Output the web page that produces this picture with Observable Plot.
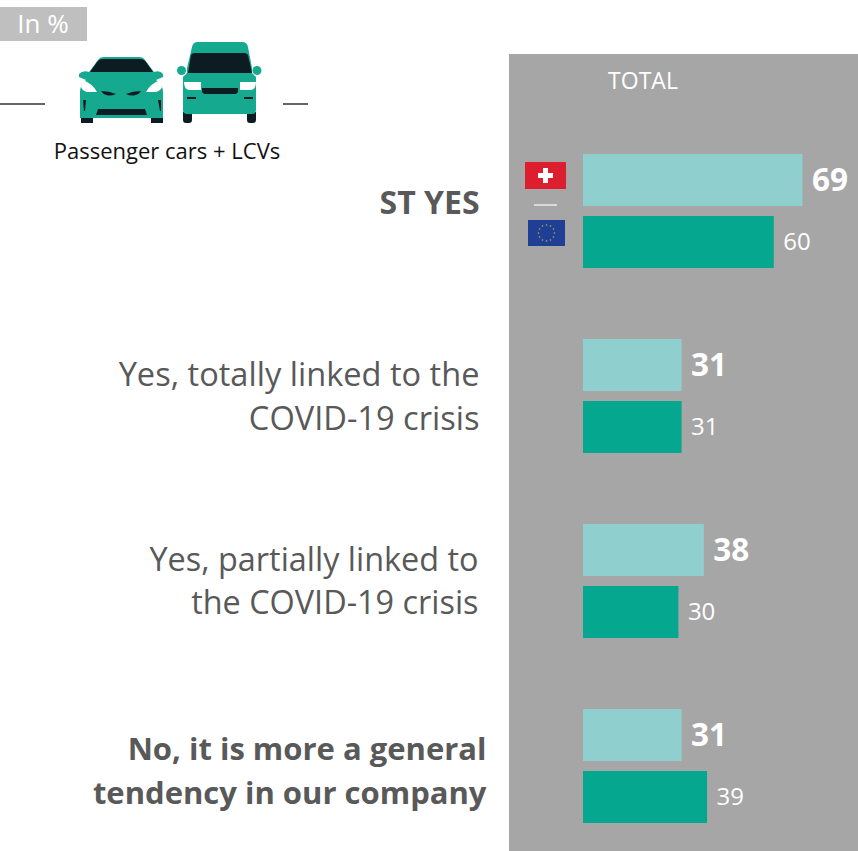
<!DOCTYPE html>
<html>
<head>
<meta charset="utf-8">
<script src="https://cdn.jsdelivr.net/npm/d3@7"></script>
<script src="https://cdn.jsdelivr.net/npm/@observablehq/plot@0.6"></script>
<style>
  html, body { margin: 0; padding: 0; background: #fff; }
  #chart { width: 858px; height: 851px; overflow: hidden; }
  svg { display: block; }
</style>
</head>
<body>
<div id="chart"></div>
<script>
// Survey answers, share of respondents in %
const categories = [
  "ST YES",
  "Yes, totally linked to the\nCOVID-19 crisis",
  "Yes, partially linked to\nthe COVID-19 crisis",
  "No, it is more a general\ntendency in our company"
];
const regions = ["Switzerland", "Europe"];
const switzerlandValues = [69, 31, 38, 31];
const europeValues = [60, 31, 30, 39];

const regionColors = ["#8fcfcd", "#05a88e"];
const panelColor = "#a6a6a6";
const labelColor = "#595959";
const fontFamily = "'Open Sans', sans-serif";

const rows = categories.flatMap((category, i) => [
  {category, region: regions[0], value: switzerlandValues[i]},
  {category, region: regions[1], value: europeValues[i]}
]);

// Category captions sit left of the panel; each has its own small offset.
const captionStyle = [
  {dx: -104, dy: -11, weight: 700, size: 32, leading: 1.35},
  {dx: -104, dy: -3, weight: 400, size: 32.6, leading: 1.35},
  {dx: -105, dy: -3, weight: 400, size: 32.4, leading: 1.35},
  {dx: -97, dy: 1, weight: 700, size: 31, leading: 1.42}
];

const plot = Plot.plot({
  width: 858,
  height: 851,
  marginTop: 154,
  marginBottom: 28,
  marginLeft: 0,
  marginRight: 0,
  style: {background: "transparent", fontFamily},
  x: {domain: [0, 100], range: [583, 901], axis: null},
  y: {domain: regions, paddingInner: 10 / 62, paddingOuter: 0, axis: null},
  fy: {domain: categories, paddingInner: 71 / 185, paddingOuter: 0, axis: null},
  color: {domain: regions, range: regionColors},
  marks: [
    Plot.barX(rows, {x: "value", y: "region", fy: "category", fill: "region"}),
    Plot.text(rows.filter((d) => d.region === regions[0]), {
      x: "value", y: "region", fy: "category", text: (d) => String(d.value),
      dx: 9, textAnchor: "start", fill: "#fff", fontSize: 31.5, fontWeight: 700
    }),
    Plot.text(rows.filter((d) => d.region === regions[1]), {
      x: "value", y: "region", fy: "category", text: (d) => String(d.value),
      dx: 9, textAnchor: "start", fill: "#fff", fontSize: 24
    }),
    ...categories.map((category, i) =>
      Plot.text([category], {
        x: () => 0, fy: (d) => d, text: (d) => d,
        frameAnchor: "middle",
        dx: captionStyle[i].dx, dy: captionStyle[i].dy,
        textAnchor: "end", fill: labelColor,
        fontSize: captionStyle[i].size, fontWeight: captionStyle[i].weight,
        lineHeight: captionStyle[i].leading
      })
    )
  ]
});
document.getElementById("chart").appendChild(plot);

const svg = d3.select(plot);

// Backdrop layer: the grey panel goes underneath the bars.
const backdrop = svg.insert("g", ":first-child");
backdrop.append("rect").attr("x", 509).attr("y", 54).attr("width", 349).attr("height", 797).attr("fill", panelColor);

const deco = svg.append("g");

// "In %" tag
deco.append("rect").attr("x", 0).attr("y", 7).attr("width", 87).attr("height", 34).attr("fill", "#bfbfbf");
deco.append("text").attr("x", 43).attr("y", 33).attr("text-anchor", "middle")
  .attr("font-size", 26).attr("fill", "#fff").text("In %");

// Panel heading and vehicle caption
deco.append("text").attr("x", 643).attr("y", 89).attr("text-anchor", "middle")
  .attr("font-size", 23).attr("fill", "#fff").text("TOTAL");
deco.append("text").attr("x", 167).attr("y", 159).attr("text-anchor", "middle")
  .attr("font-size", 22).attr("fill", "#111").text("Passenger cars + LCVs");

// Rules either side of the vehicles
deco.append("rect").attr("x", 0).attr("y", 103).attr("width", 45).attr("height", 2).attr("fill", "#666");
deco.append("rect").attr("x", 283).attr("y", 103).attr("width", 25).attr("height", 2).attr("fill", "#666");

const teal = "#15aa8f", dark = "#0d1c22";

// Passenger car, front view
const car = deco.append("g");
car.append("path").attr("fill", dark).attr("d", "M81 116h12v7h-12z M151 116h12v7h-12z");
car.append("path").attr("fill", teal).attr("d",
  "M79 74q4 -4 10 -2l9 -12q2 -3 6 -3h35q4 0 6 3l9 12q6 -2 9 2v3l-7 3q7 5 7 12v26h-83v-26q0 -7 6 -12l-7 -3z");
car.append("path").attr("fill", dark).attr("d", "M90 72l7 -10q2 -3 6 -3h37q4 0 6 3l7 10z");
car.append("path").attr("fill", "#fff").attr("d", "M83 80q10 4 14 12h-10q-6 -2 -6 -6z M160 80q-10 4 -14 12h10q6 -2 6 -6z");
car.append("path").attr("fill", dark).attr("d",
  "M101 91q8 0 15 3q-4 2 -8 1.5q-5 -1 -7 -4.5z M141 91q-8 0 -15 3q4 2 8 1.5q5 -1 7 -4.5z M98 109h47l2 6h-51z M83 100h3l-1 11h-1z M158 100h3v11h-1z");

// Light commercial van, front view
const van = deco.append("g");
van.append("path").attr("fill", dark).attr("d", "M183 112h9v8q0 3 -3 3h-3q-3 0 -3 -3z M247 112h9v8q0 3 -3 3h-3q-3 0 -3 -3z");
van.append("path").attr("fill", teal).attr("d",
  "M192 47q1 -5 6 -5h44q5 0 6 5l4 21v5l4 4v33q0 4 -4 4h-65q-4 0 -4 -4v-33l4 -4v-5z");
van.append("ellipse").attr("cx", 181.5).attr("cy", 70.5).attr("rx", 4.5).attr("ry", 4.5).attr("fill", teal);
van.append("ellipse").attr("cx", 257).attr("cy", 70.5).attr("rx", 4.5).attr("ry", 4.5).attr("fill", teal);
van.append("path").attr("fill", dark).attr("d", "M191 55q1 -2 4 -2h49q3 0 4 2l4 18h-64z");
van.append("path").attr("fill", "#fff").attr("d", "M184 82h17v8h-12q-5 -1 -5 -8z M256 82h-16v8h11q5 -1 5 -8z");
van.append("path").attr("fill", dark).attr("d", "M202 88h36v4l-2 2h-32l-2 -2z M187 97h9v2h-9z M244 97h9v2h-9z");

// Flags beside the first pair of bars
const flags = deco.append("g");
flags.append("rect").attr("x", 525).attr("y", 162).attr("width", 41).attr("height", 27).attr("fill", "#dc1e2e");
flags.append("path").attr("fill", "#fff").attr("d", "M543 168h5v5h5v5h-5v5h-5v-5h-5v-5h5z");
flags.append("rect").attr("x", 534).attr("y", 204).attr("width", 23).attr("height", 2).attr("fill", "#d9d9d9");
flags.append("rect").attr("x", 528).attr("y", 220).attr("width", 37).attr("height", 26).attr("fill", "#1f3f94");
const starRadius = 8;
d3.range(12).forEach((k) => {
  const angle = (k / 12) * 2 * Math.PI;
  flags.append("circle")
    .attr("cx", 546.5 + starRadius * Math.cos(angle))
    .attr("cy", 233 + starRadius * Math.sin(angle))
    .attr("r", 0.8).attr("fill", "#b9a94f");
});
</script>
</body>
</html>
